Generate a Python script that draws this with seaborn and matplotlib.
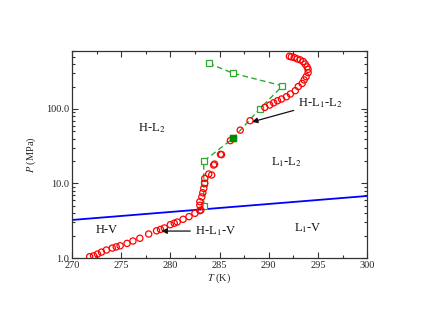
"""Phase diagram of hydrate / liquid / vapour equilibria (log pressure)."""

import matplotlib

matplotlib.use("Agg")
import matplotlib.pyplot as plt
import matplotlib.ticker as mticker
import pandas as pd
import seaborn as sns

# red circles: H-L1-V and H-L1-L2 three-phase line
circle_T = [271.8, 272.2, 272.6, 273.0, 273.5, 274.1, 274.5, 274.9, 275.6, 276.2,
            276.9, 277.8, 278.6, 279.0, 279.4, 280.0, 280.4, 280.7, 281.3, 281.9,
            282.5, 283.0, 283.1, 283.0, 283.0, 283.2, 283.3, 283.4, 283.5, 283.5,
            283.9, 284.2, 284.4, 284.5, 285.1, 285.2, 286.1, 287.1, 288.1, 289.6,
            290.1, 290.5, 290.9, 291.3, 291.8, 292.2, 292.7, 293.0, 293.4, 293.6,
            293.8, 294.0, 294.0, 293.9, 293.7, 293.5, 293.2, 292.9, 292.6, 292.3,
            292.1]
circle_P = [1.04, 1.07, 1.13, 1.20, 1.28, 1.36, 1.41, 1.46, 1.57, 1.69,
            1.84, 2.10, 2.32, 2.42, 2.53, 2.80, 2.93, 3.04, 3.31, 3.59,
            3.98, 4.32, 4.4, 5.1, 5.7, 6.6, 7.5, 8.6, 10.1, 11.7,
            13.4, 13.0, 17.7, 18.2, 24.6, 24.4, 37.6, 52.0, 69.6, 105,
            113, 121, 129, 136, 146, 159, 176, 200, 220, 245,
            271, 307, 340, 367, 401, 433, 456, 470, 490, 500,
            510]

# green squares joined by a dashed line
square_T = [283.9, 286.4, 291.4, 289.1, 286.4, 283.4, 283.4, 283.4]
square_P = [410, 301, 204, 101, 40.6, 20.0, 10.0, 5.0]
filled_T = [286.4]
filled_P = [40.6]

# blue line: H-V / L1-V boundary
line_T = [270, 300]
line_P = [3.24, 6.8]

sns.set_theme(style="ticks")
plt.rcParams["font.family"] = ["Liberation Serif", "DejaVu Serif"]
plt.rcParams["mathtext.fontset"] = "stix"

fig = plt.figure(figsize=(4.36, 3.09), dpi=100)
ax = fig.add_axes([0.165, 0.165, 0.677, 0.67])

sns.lineplot(x=line_T, y=line_P, color="#0000ff", linewidth=1.3, ax=ax)

squares = pd.DataFrame({"T": square_T, "P": square_P})
sns.lineplot(data=squares, x="T", y="P", sort=False, estimator=None,
             color="#2fa82f", linewidth=1.0, linestyle=(0, (4, 2.5)), ax=ax)
ax.plot(square_T, square_P, linestyle="none", marker="s", markersize=4,
        markerfacecolor="white", markeredgecolor="#2fa82f", markeredgewidth=0.9)
ax.plot(filled_T, filled_P, linestyle="none", marker="s", markersize=5,
        color="#008a00", zorder=4)

sns.scatterplot(x=circle_T, y=circle_P, marker="o", s=20, facecolor="none",
                edgecolor="#ff0000", linewidth=0.9, ax=ax, zorder=3)

ax.set_yscale("log")
ax.set_xlim(270, 300)
ax.set_ylim(1, 600)
ax.xaxis.set_major_locator(mticker.MultipleLocator(5))
ax.xaxis.set_minor_locator(mticker.MultipleLocator(2.5))
ax.yaxis.set_major_locator(mticker.LogLocator(base=10))
ax.yaxis.set_minor_locator(mticker.LogLocator(base=10, subs=range(2, 10)))
ax.yaxis.set_major_formatter(mticker.FormatStrFormatter("%.1f"))
ax.yaxis.set_minor_formatter(mticker.NullFormatter())
ax.tick_params(which="both", direction="in", top=True, right=True,
               labelsize=7.5, color="#333333", width=0.8, pad=2)
ax.tick_params(which="major", length=4)
ax.tick_params(which="minor", length=2.5)
for spine in ax.spines.values():
    spine.set_visible(True)
    spine.set_color("#333333")
    spine.set_linewidth(0.9)

ax.set_xlabel("$T$ (K)", fontsize=7.5, labelpad=1)
ax.set_ylabel("$P$ (MPa)", fontsize=7.5, labelpad=6)

label_kw = dict(fontsize=9, color="#111111")
ax.text(278.1, 55, "H-L$_2$", ha="center", va="center", **label_kw)
ax.text(291.8, 19.6, "L$_1$-L$_2$", ha="center", va="center", **label_kw)
ax.text(273.5, 2.4, "H-V", ha="center", va="center", **label_kw)
ax.text(294.0, 2.5, "L$_1$-V", ha="center", va="center", **label_kw)

ax.annotate("H-L$_1$-L$_2$", xy=(288.3, 67), xytext=(293.0, 120),
            ha="left", va="center", **label_kw,
            arrowprops=dict(arrowstyle="-|>", color="#111111", lw=0.9,
                            mutation_scale=8, shrinkA=1, shrinkB=0))
ax.annotate("H-L$_1$-V", xy=(279.1, 2.3), xytext=(282.5, 2.3),
            ha="left", va="center", **label_kw,
            arrowprops=dict(arrowstyle="-|>", color="#111111", lw=0.9,
                            mutation_scale=8, shrinkA=1, shrinkB=0))

fig.savefig("out.png", dpi=100)
